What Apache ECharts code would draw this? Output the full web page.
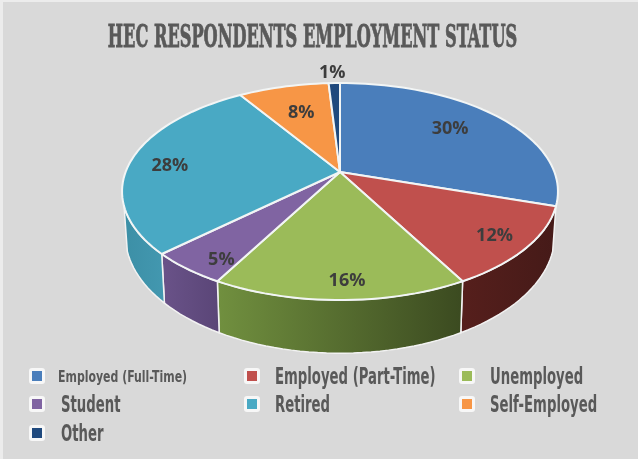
<!DOCTYPE html>
<html>
<head>
<meta charset="utf-8">
<style>
  html, body { margin: 0; padding: 0; }
  #chart {
    width: 638px; height: 459px;
    background:
      linear-gradient(#ececec, #ececec) 0 0 / 3px 100% no-repeat,
      linear-gradient(#ececec, #ececec) 0 0 / 100% 2px no-repeat,
      #d9d9d9;
  }
</style>
<script src="https://cdn.jsdelivr.net/npm/echarts@6/dist/echarts.min.js"></script>
</head>
<body>
<div id="chart"></div>
<script>
// Employment status shares, in percent, clockwise from twelve o'clock
const categories = ['Employed (Full-Time)', 'Employed (Part-Time)', 'Unemployed', 'Student', 'Retired', 'Self-Employed', 'Other'];
const shares = [30, 12, 16, 5, 28, 8, 1];

const titleText = 'HEC RESPONDENTS EMPLOYMENT STATUS';
const topColors = ['#4a7ebb', '#c0504d', '#9bbb59', '#8064a2', '#49a9c4', '#f79646', '#1f497d'];
const wallColors = [
  ['#3a6595', '#3a6595'], ['#561f1c', '#451a18'], ['#71903f', '#3b4a20'], ['#6a5389', '#5a4577'],
  ['#3c8fa6', '#4398b0'], ['#c77a38', '#c77a38'], ['#183a64', '#183a64']
];

// Perspective disc: apex position, radii and camera strength
const disc = { cx: 340, cy: 172, a: 214.4, b: 105, p: 0.18 };
// Lower rim of the disc, relative to the top rim
const rim = { scaleX: 0.985, scaleY: 1.087, drop: 42 };
// Part of the rim facing the viewer, in degrees clockwise from twelve o'clock
const wallFrom = 108, wallTo = 252;

// Label offsets from a point on each slice's bisector: [radius fraction, dx, dy]
const labelSpots = [[0.68, 0, -4], [0.8, 9, 5], [0.87, 7, 1], [0.8, 0, 13], [0.8, -3, 4], [0.4, -14, -22], [1, -2, -10]];

// Key layout: marker centre x, text start x and row y for each category
const keySpots = [
  { mx: 37, tx: 58, y: 376 }, { mx: 252, tx: 275, y: 376 }, { mx: 467, tx: 490, y: 376 },
  { mx: 37, tx: 61, y: 404 }, { mx: 252, tx: 275, y: 404 }, { mx: 467, tx: 490, y: 404 },
  { mx: 37, tx: 61, y: 433 }
];
const keyFont = '"DejaVu Sans Condensed", "DejaVu Sans", sans-serif';

function project(deg, r, lower) {
  const t = deg * Math.PI / 180;
  const u = r * Math.sin(t), v = -r * Math.cos(t);
  const w = 1 - disc.p * v;
  const x = disc.a * u / w, y = disc.b * v / w;
  return lower
    ? [disc.cx + x * rim.scaleX, disc.cy + rim.drop + y * rim.scaleY]
    : [disc.cx + x, disc.cy + y];
}

function arcPoints(from, to, lower) {
  const pts = [];
  const n = Math.max(2, Math.ceil((to - from) / 2));
  for (let i = 0; i <= n; i++) pts.push(project(from + (to - from) * i / n, 1, lower));
  return pts;
}

function renderSlice(params, api) {
  const i = params.seriesIndex;
  const total = shares.reduce((s, d) => s + d, 0);
  const before = shares.slice(0, i).reduce((s, d) => s + d, 0);
  const start = before / total * 360;
  const end = start + api.value(0) / total * 360;
  const mid = (start + end) / 2;
  const children = [];

  const wStart = Math.max(start, wallFrom), wEnd = Math.min(end, wallTo);
  if (wEnd > wStart) {
    const upper = arcPoints(wStart, wEnd, false);
    const lower = arcPoints(wStart, wEnd, true).reverse();
    children.push({
      type: 'polygon',
      shape: { points: upper.concat(lower) },
      style: {
        fill: new echarts.graphic.LinearGradient(0, 0, 1, 0, [
          { offset: 0, color: wallColors[i][0] },
          { offset: 1, color: wallColors[i][1] }
        ]),
        stroke: '#f2f2f2',
        lineWidth: 1.5,
        lineJoin: 'round'
      }
    });
  }

  children.push({
    type: 'polygon',
    shape: { points: [[disc.cx, disc.cy]].concat(arcPoints(start, end, false)) },
    style: { fill: topColors[i], stroke: '#f2f5f5', lineWidth: 2, lineJoin: 'round' }
  });

  const spot = labelSpots[i];
  const anchor = project(mid, spot[0], false);
  children.push({
    type: 'text',
    z2: 10,
    x: anchor[0] + spot[1],
    y: anchor[1] + spot[2],
    style: {
      text: api.value(0) + '%',
      fontFamily: '"Open Sans", "Noto Sans", sans-serif',
      fontWeight: 700,
      fontSize: 18,
      fill: '#3d3d3d',
      textAlign: 'center',
      textVerticalAlign: 'middle'
    }
  });
  return { type: 'group', children };
}

// Category key: white tile, colour chip and a narrowed label
function keyEntry(name, i) {
  const s = keySpots[i];
  const small = i === 0;
  return {
    type: 'group',
    children: [
      { type: 'rect', shape: { x: s.mx - 8, y: s.y - 8, width: 16, height: 16, r: 3 }, style: { fill: '#f7f7f7' } },
      { type: 'rect', shape: { x: s.mx - 5, y: s.y - 5, width: 10, height: 10 }, style: { fill: topColors[i] } },
      {
        type: 'text',
        x: s.tx,
        y: s.y + 2,
        scaleX: small ? 0.76 : 0.64,
        style: {
          text: name,
          fontFamily: keyFont,
          fontWeight: 'bold',
          fontSize: small ? 16 : 23,
          fill: '#595959',
          textAlign: 'left',
          textVerticalAlign: 'middle'
        }
      }
    ]
  };
}

const chart = echarts.init(document.getElementById('chart'), null, { renderer: 'canvas' });
chart.setOption({
  backgroundColor: 'transparent',
  animation: false,
  graphic: [{
    type: 'text',
    x: 312.5,
    y: 39,
    scaleX: 0.58,
    style: {
      text: titleText,
      fontFamily: '"DejaVu Serif Condensed", "DejaVu Serif", serif',
      fontWeight: 'bold',
      fontSize: 31,
      fill: '#595959',
      stroke: '#595959',
      lineWidth: 0.8,
      textAlign: 'center',
      textVerticalAlign: 'middle'
    }
  }].concat(categories.map(keyEntry)),
  series: categories.map((name, i) => ({
    type: 'custom',
    name,
    coordinateSystem: 'none',
    itemStyle: { color: topColors[i] },
    renderItem: renderSlice,
    data: [[shares[i]]],
    silent: true
  }))
});
</script>
</body>
</html>
